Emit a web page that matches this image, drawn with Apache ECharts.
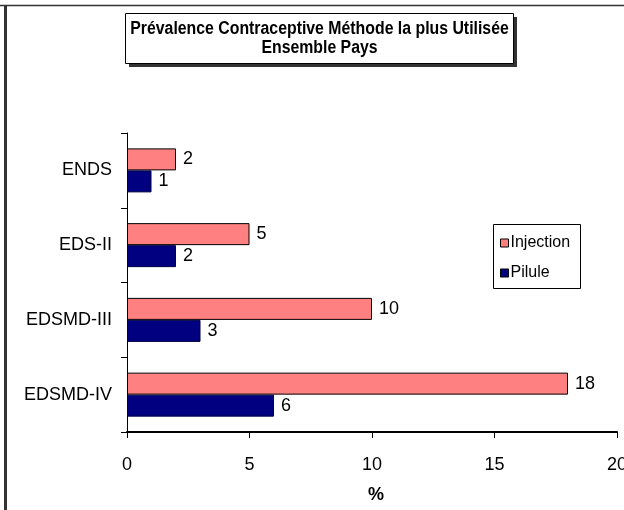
<!DOCTYPE html>
<html>
<head>
<meta charset="utf-8">
<script src="https://cdn.jsdelivr.net/npm/echarts@6/dist/echarts.min.js"></script>
<style>
html,body{margin:0;padding:0;background:#fff;}
#c{width:624px;height:510px;}
</style>
</head>
<body>
<div id="c"></div>
<script>
const categories = ['ENDS', 'EDS-II', 'EDSMD-III', 'EDSMD-IV'];
const injection = [2, 5, 10, 18];
const pilule = [1, 2, 3, 6];
const seriesNames = ['Injection', 'Pilule'];
const titleLines = ['Prévalence Contraceptive Méthode la plus Utilisée', 'Ensemble Pays'];
const xAxisName = '%';

const chart = echarts.init(document.getElementById('c'), null, {renderer: 'canvas'});
const sans = '"Liberation Sans", Arial, sans-serif';

chart.setOption({
  animation: false,
  backgroundColor: '#fff',
  textStyle: {fontFamily: sans},
  grid: {left: 127, right: 7, top: 133, bottom: 78, containLabel: false, outerBoundsMode: 'none'},
  legend: {
    orient: 'vertical',
    left: 496, top: 231,
    itemWidth: 8, itemHeight: 8, itemGap: 14,
    icon: 'rect',
    padding: [4, 6, 4, 4],
    itemStyle: {borderColor: '#000', borderWidth: 1},
    textStyle: {fontFamily: sans, fontSize: 16, color: '#000', padding: [0, 0, 0, -3]},
    data: seriesNames
  },
  xAxis: {
    type: 'value', min: 0, max: 20, interval: 5,
    axisLine: {show: true, lineStyle: {color: '#000', width: 2}},
    axisTick: {show: true, length: 6, lineStyle: {color: '#000'}},
    splitLine: {show: false},
    axisLabel: {fontSize: 18, color: '#000', margin: 24, fontFamily: sans},
    name: xAxisName, nameLocation: 'middle', nameGap: 54,
    nameTextStyle: {fontSize: 18, fontWeight: 'bold', color: '#000', fontFamily: sans, padding: [0, 0, 0, 8]}
  },
  yAxis: {
    type: 'category', data: categories, inverse: true,
    axisLine: {show: true, lineStyle: {color: '#000', width: 1}},
    axisTick: {show: true, length: 6, lineStyle: {color: '#000'}},
    axisLabel: {fontSize: 18, color: '#000', margin: 15, fontFamily: sans}
  },
  series: [
    {
      name: seriesNames[0], type: 'bar', data: injection, barWidth: 22, barGap: '0%',
      itemStyle: {color: '#FF8080', borderColor: '#000', borderWidth: 1},
      label: {show: true, position: 'right', distance: 7, fontSize: 18, color: '#000', fontFamily: sans}
    },
    {
      name: seriesNames[1], type: 'bar', data: pilule, barWidth: 22, barGap: '0%',
      itemStyle: {color: '#000080', borderColor: '#000040', borderWidth: 1},
      label: {show: true, position: 'right', distance: 7, fontSize: 18, color: '#000', fontFamily: sans}
    }
  ],
  graphic: [
    {type: 'line', shape: {x1: 0, y1: 5.5, x2: 624, y2: 5.5}, style: {stroke: '#333', lineWidth: 1.5}, silent: true},
    {type: 'rect', shape: {x: 4, y: 5, width: 3, height: 505}, style: {fill: '#333'}, silent: true},
    {type: 'rect', shape: {x: 129, y: 17, width: 388, height: 50}, style: {fill: '#333'}, silent: true},
    {type: 'rect', shape: {x: 125.5, y: 13.5, width: 388, height: 50}, style: {fill: '#fff', stroke: '#000', lineWidth: 1}, silent: true},
    {type: 'text', x: 319.5, y: 29, scaleX: 0.88, style: {text: titleLines[0], font: 'bold 18px ' + sans, fill: '#000', textAlign: 'center', textVerticalAlign: 'middle'}, silent: true},
    {type: 'text', x: 319.5, y: 48, scaleX: 0.88, style: {text: titleLines[1], font: 'bold 18px ' + sans, fill: '#000', textAlign: 'center', textVerticalAlign: 'middle'}, silent: true},
    {type: 'rect', shape: {x: 493.5, y: 224.5, width: 87, height: 64}, style: {fill: 'none', stroke: '#000', lineWidth: 1}, silent: true}
  ]
});
</script>
</body>
</html>
